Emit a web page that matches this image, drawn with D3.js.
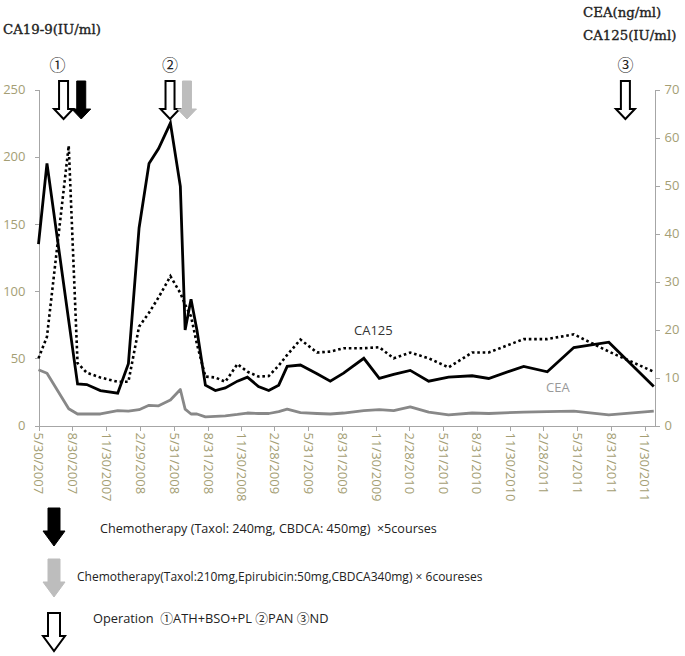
<!DOCTYPE html>
<html>
<head>
<meta charset="utf-8">
<script src="https://d3js.org/d3.v7.min.js"></script>
<style>
body { margin: 0; background: #fff; }
svg { display: block; font-family: "Open Sans", sans-serif; }
.axis path, .axis line { stroke: #a6a6a6; shape-rendering: crispEdges; }
.axis text { fill: #a49e74; font-size: 13px; font-family: "Open Sans", sans-serif; }
.unit { font-family: "DejaVu Serif", serif; font-size: 13.3px; fill: #222; stroke: #222; stroke-width: 0.35px; }
.legend-text { fill: #222; font-family: "Open Sans", "Noto Sans CJK JP", sans-serif; }
.mark { font-family: "Noto Sans CJK JP", sans-serif; font-size: 16px; fill: #222; }
</style>
</head>
<body>
<div id="chart"></div>
<script>
// measurement dates and marker values
var dates = ["2007-05-30","2007-06-22","2007-08-20","2007-09-13","2007-10-08","2007-11-14","2007-12-31",
  "2008-01-29","2008-02-27","2008-03-25","2008-04-20","2008-05-22","2008-06-18","2008-07-01","2008-07-17",
  "2008-08-02","2008-08-25","2008-09-21","2008-10-18","2008-11-20","2008-12-17","2009-01-16","2009-02-13",
  "2009-03-12","2009-04-04","2009-05-10","2009-06-24","2009-07-30","2009-09-04","2009-10-29","2009-12-10",
  "2010-01-18","2010-03-04","2010-04-23","2010-06-16","2010-08-19","2010-10-03","2011-01-06","2011-03-11",
  "2011-05-22","2011-08-25","2011-12-25"];
var ca199 = [135,195,78,31,30.5,26,24,46,147,195,206,225,178,71,94,71,30,26,28,33,36,29,26,30,44,45,38.5,33,
  39,50,35,38,41,33,36,37,35,44,40,58,62,29];
var ca125 = [14,18.5,58.3,13,11,10,9.1,9.1,20.6,23.5,26.7,31.1,27.6,25.2,22.7,17,10.2,10,9.1,12.8,11.2,10.2,
  10.3,12.5,14.7,17.9,15.2,15.4,16.1,16.1,16.3,14,15.2,14,12.1,15.2,15.2,18,18,19,15.4,11.2];
var cea = [11.6,10.9,3.5,2.4,2.4,2.4,3.1,3.0,3.3,4.2,4.1,5.3,7.5,3.4,2.4,2.4,1.8,1.9,2.0,2.3,2.6,2.5,2.5,2.9,
  3.4,2.7,2.5,2.4,2.6,3.1,3.3,3.1,3.9,2.8,2.2,2.6,2.5,2.8,2.9,3.0,2.2,3.0];

var xTicks = ["2007-05-30","2007-08-30","2007-11-30","2008-02-29","2008-05-31","2008-08-31","2008-11-30",
  "2009-02-28","2009-05-31","2009-08-31","2009-11-30","2010-02-28","2010-05-31","2010-08-31","2010-11-30",
  "2011-02-28","2011-05-31","2011-08-31","2011-11-30"];
var leftTicks = [0, 50, 100, 150, 200, 250];
var rightTicks = [0, 10, 20, 30, 40, 50, 60, 70];

// treatment events
var eventDates = ["2007-08-06","2007-09-23","2008-05-21","2008-07-06","2011-10-09"];
var eventTypes = ["operation","chemoA","operation","chemoB","operation"];
var eventMarks = ["\u2460","","\u2461","","\u2462"];

var legendTypes = ["chemoA","chemoB","operation"];
var legendTexts = [
  "Chemotherapy (Taxol: 240mg, CBDCA: 450mg) \u00a0\u00d75courses",
  "Chemotherapy(Taxol:210mg,Epirubicin:50mg,CBDCA340mg) \u00d7 6coureses",
  "Operation \u00a0\u2460ATH+BSO+PL \u2461PAN \u2462ND"
];

var width = 685, height = 656;
var parse = d3.timeParse("%Y-%m-%d");

var svg = d3.select("#chart").append("svg")
    .attr("width", width)
    .attr("height", height);

var x = d3.scaleTime()
    .domain([parse("2007-05-30"), parse("2011-12-27")])
    .range([38.5, 654.5]);
var yL = d3.scaleLinear().domain([0, 250]).range([425.5, 89.5]);
var yR = d3.scaleLinear().domain([0, 70]).range([425.5, 89.5]);

// axes
var xAxis = d3.axisBottom(x)
    .tickValues(xTicks.map(parse))
    .tickFormat(d3.timeFormat("%-m/%-d/%Y"))
    .tickSize(5).tickSizeOuter(0);
var gx = svg.append("g").attr("class", "axis")
    .attr("transform", "translate(0,425.5)")
    .call(xAxis);
gx.selectAll("text")
    .attr("y", 0).attr("x", 7).attr("dy", "0.35em")
    .attr("transform", "rotate(90)")
    .style("text-anchor", "start");

svg.append("g").attr("class", "axis")
    .attr("transform", "translate(38.5,0)")
    .call(d3.axisLeft(yL).tickValues(leftTicks).tickSize(4).tickPadding(9).tickSizeOuter(0));

svg.append("g").attr("class", "axis")
    .attr("transform", "translate(654.5,0)")
    .call(d3.axisRight(yR).tickValues(rightTicks).tickSize(5).tickPadding(5).tickSizeOuter(0));

// unit titles
svg.append("text").attr("class", "unit").attr("x", 3).attr("y", 34).text("CA19-9(IU/ml)");
svg.append("text").attr("class", "unit").attr("x", 583).attr("y", 17).text("CEA(ng/ml)");
svg.append("text").attr("class", "unit").attr("x", 583).attr("y", 40).text("CA125(IU/ml)");

// lines
var rows = dates.map(function(d, i) {
    return { date: parse(d), ca199: ca199[i], ca125: ca125[i], cea: cea[i] };
});

var lineCEA = d3.line().x(function(d) { return x(d.date); }).y(function(d) { return yR(d.cea); });
var line125 = d3.line().x(function(d) { return x(d.date); }).y(function(d) { return yR(d.ca125); });
var line199 = d3.line().x(function(d) { return x(d.date); }).y(function(d) { return yL(d.ca199); });

svg.append("path").datum(rows)
    .attr("d", lineCEA)
    .attr("fill", "none").attr("stroke", "#888").attr("stroke-width", 2.8)
    .attr("stroke-linejoin", "round");
svg.append("path").datum(rows)
    .attr("d", line125)
    .attr("fill", "none").attr("stroke", "#000").attr("stroke-width", 2.6)
    .attr("stroke-dasharray", "2.6,2.8");
svg.append("path").datum(rows)
    .attr("d", line199)
    .attr("fill", "none").attr("stroke", "#000").attr("stroke-width", 2.8)
    .attr("stroke-linejoin", "miter");

svg.append("text").attr("x", 354).attr("y", 335)
    .style("font-size", "13px").style("fill", "#333").text("CA125");
svg.append("text").attr("x", 546).attr("y", 392)
    .style("font-size", "13px").style("fill", "#999").text("CEA");

// arrows
function arrowPath(cx, top, h, sw, hw, hh) {
    return "M" + (cx - sw / 2) + "," + top +
        "L" + (cx + sw / 2) + "," + top +
        "L" + (cx + sw / 2) + "," + (top + h - hh) +
        "L" + (cx + hw / 2) + "," + (top + h - hh) +
        "L" + cx + "," + (top + h) +
        "L" + (cx - hw / 2) + "," + (top + h - hh) +
        "L" + (cx - sw / 2) + "," + (top + h - hh) + "Z";
}
var arrowFill = { operation: "#fff", chemoA: "#000", chemoB: "#bdbdbd" };
var arrowStroke = { operation: "#000", chemoA: "#000", chemoB: "#bdbdbd" };

var ev = svg.append("g").selectAll("g")
    .data(eventDates.map(function(d, i) { return { date: parse(d), type: eventTypes[i], mark: eventMarks[i] }; }))
    .enter().append("g")
    .attr("transform", function(d) { return "translate(" + x(d.date) + ",0)"; });

ev.append("path")
    .attr("d", function(d) { return arrowPath(0, 81, 38, 9, 19, 10); })
    .attr("fill", function(d) { return arrowFill[d.type]; })
    .attr("stroke", function(d) { return arrowStroke[d.type]; })
    .attr("stroke-width", function(d) { return d.type == "operation" ? 2 : 1; })
    .attr("stroke-linejoin", "miter");

ev.filter(function(d) { return d.mark; }).append("text")
    .attr("class", "mark")
    .attr("x", function(d, i) { return i == 0 ? -6 : 0; })
    .attr("y", 71)
    .attr("text-anchor", "middle")
    .text(function(d) { return d.mark; });

// legend
var legendTop = [508, 559, 613];
var legendTextY = [533, 581, 623];
var legendTextX = [100, 77, 93];
var legendSize = [12.6, 12, 12.8];
legendTypes.forEach(function(t, i) {
    svg.append("path")
        .attr("d", arrowPath(54, legendTop[i], 38, 12, 22, 15))
        .attr("fill", arrowFill[t])
        .attr("stroke", arrowStroke[t])
        .attr("stroke-width", t == "operation" ? 2 : 1);
    svg.append("text")
        .attr("class", "legend-text")
        .attr("x", legendTextX[i])
        .attr("y", legendTextY[i])
        .style("font-size", legendSize[i] + "px")
        .text(legendTexts[i]);
});
</script>
</body>
</html>
